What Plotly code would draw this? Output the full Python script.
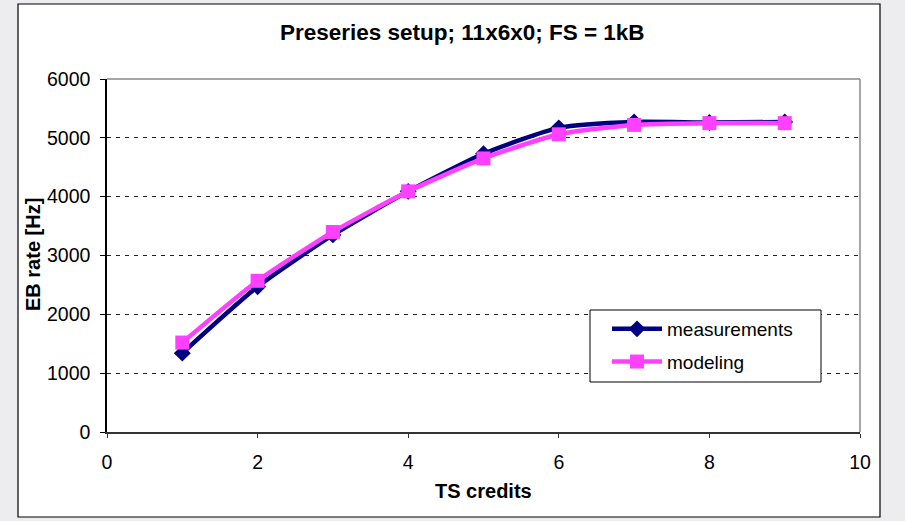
import plotly.graph_objects as go

ts_credits = [1, 2, 3, 4, 5, 6, 7, 8, 9]
measurements = [1340, 2470, 3350, 4090, 4730, 5170, 5270, 5260, 5270]
modeling = [1520, 2570, 3400, 4090, 4650, 5060, 5220, 5250, 5250]
x_ticks = [0, 2, 4, 6, 8, 10]
y_ticks = [0, 1000, 2000, 3000, 4000, 5000, 6000]

FONT = "Arial, Liberation Sans, sans-serif"
W, H = 905, 521
L, R, T, B = 107, 45, 79, 89
pw, ph = W - L - R, H - T - B

def px_x(p):
    return (p - L) / pw

def px_y(p):
    return (H - B - p) / ph

fig = go.Figure()
fig.add_trace(go.Scatter(
    x=ts_credits, y=measurements, name="measurements", mode="lines+markers",
    line=dict(color="#000080", width=4.5, shape="spline", smoothing=0.6),
    marker=dict(symbol="diamond", size=13, color="#000080"),
    legendgroup="a",
))
fig.add_trace(go.Scatter(
    x=ts_credits, y=modeling, name="modeling", mode="lines+markers",
    line=dict(color="#FF40FF", width=4.5, shape="spline", smoothing=0.6),
    marker=dict(symbol="square", size=14, color="#FF40FF"),
    legendgroup="b",
))

# chart area (white with black border)
fig.add_shape(type="rect", xref="paper", yref="paper",
              x0=px_x(18), x1=px_x(880), y0=px_y(517), y1=px_y(4),
              fillcolor="white", line=dict(color="black", width=1.2), layer="below")
# plot area gray frame (top and right)
fig.add_shape(type="line", xref="paper", yref="paper", x0=0, x1=1, y0=1, y1=1,
              line=dict(color="#888888", width=1.5))
fig.add_shape(type="line", xref="paper", yref="paper", x0=1, x1=1, y0=0, y1=1,
              line=dict(color="#888888", width=1.5))
# legend box
fig.add_shape(type="rect", xref="paper", yref="paper",
              x0=px_x(590), x1=px_x(821), y0=px_y(382), y1=px_y(310),
              fillcolor="white", line=dict(color="black", width=1), layer="above")

fig.update_layout(
    width=W, height=H,
    margin=dict(l=L, r=R, t=T, b=B, pad=0),
    paper_bgcolor="#ededef",
    plot_bgcolor="rgba(0,0,0,0)",
    font=dict(family=FONT, size=19, color="black"),
    showlegend=True,
    legend=dict(
        x=px_x(607), y=px_y(310), xanchor="left", yanchor="top",
        bgcolor="rgba(0,0,0,0)", borderwidth=0,
        font=dict(family=FONT, size=19), tracegroupgap=5,
        itemwidth=50,
    ),
    xaxis=dict(
        range=[0, 10], tickvals=x_ticks, ticktext=[str(v) for v in x_ticks],
        showgrid=False, zeroline=False, showline=True, linecolor="#333333", linewidth=2,
        ticks="outside", ticklen=4, tickcolor="#333333", tickwidth=1,
        ticklabelstandoff=8, tickfont=dict(size=19.5),
    ),
    yaxis=dict(
        range=[0, 6000], tickvals=y_ticks, ticktext=[str(v) for v in y_ticks],
        showgrid=True, gridcolor="#222222", gridwidth=1, griddash="4px,5px",
        zeroline=False, showline=True, linecolor="black", linewidth=1.5,
        ticks="outside", ticklen=5, tickcolor="black", tickwidth=1,
        ticklabelstandoff=6, tickfont=dict(size=19.5),
    ),
    annotations=[
        dict(text="<b>Preseries setup; 11x6x0; FS = 1kB</b>", xref="paper", yref="paper",
             x=px_x(462), y=px_y(33), xanchor="center", yanchor="middle",
             showarrow=False, font=dict(size=22.5)),
        dict(text="<b>TS credits</b>", xref="paper", yref="paper",
             x=0.5, y=px_y(491), xanchor="center", yanchor="middle",
             showarrow=False, font=dict(size=20)),
        dict(text="<b>EB rate [Hz]</b>", xref="paper", yref="paper",
             x=px_x(33), y=px_y(255), xanchor="center", yanchor="middle",
             textangle=-90, showarrow=False, font=dict(size=20)),
    ],
)

fig.write_html("out.html")
